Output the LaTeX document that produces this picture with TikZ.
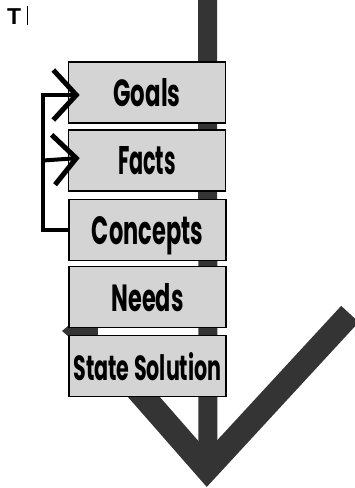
\documentclass[tikz,border=0pt]{standalone}
\usepackage{fontspec}
\setmainfont{Liberation Sans}
\newfontfamily\labelfont{Poppins}
\usetikzlibrary{arrows.meta}
\definecolor{boxgray}{HTML}{D4D4D4}
\definecolor{bargray}{HTML}{343434}
\newcommand\steplabel[2]{\resizebox{#1}{28pt}{\labelfont\bfseries #2}}
\tikzset{
  stepbox/.style={draw=black, line width=1.6pt, fill=boxgray,
    minimum width=157pt, minimum height=61pt, inner sep=0pt,
    text height=28pt, text depth=0pt},
  spine/.style={draw=bargray, line width=19pt, line cap=butt},
  tick/.style={draw=bargray, line width=24pt, line join=miter, line cap=butt},
  loopline/.style={draw=black, line width=4pt, line join=miter,
    -{Straight Barb[length=23pt, width=50pt, line width=5pt]}},
  backarrow/.style={draw=bargray, line width=7pt,
    -{Triangle[length=8pt, width=13pt]}}
}
\begin{document}
\begin{tikzpicture}[x=1pt, y=-1pt]
\useasboundingbox (0,0) rectangle (355,488);

% heading
\node[anchor=base west, font=\bfseries\fontsize{23}{23}\selectfont, inner sep=0pt] (head) at (7,24.5) {T};
\node[anchor=south west, inner sep=0pt] (cursor) at (26.5,25.5) {\rule{0.8pt}{19pt}};

% the check mark behind the stack
\coordinate (tickL) at (136,388);
\coordinate (tickV) at (207,469);
\coordinate (tickR) at (350,314);
\draw[tick] (tickL) -- (tickV) -- (tickR);

% central spine running through all steps
\coordinate (top) at (207.5,0);
\coordinate (bottom) at (208,455);
\draw[spine] (top) -- (bottom);

% short back arrow between the last two steps
\coordinate (ba1) at (98,331);
\coordinate (ba2) at (62,331);
\draw[backarrow] (ba1) -- (ba2);

% steps
\node[stepbox] (goals)    at (147,92.5)  {\steplabel{67pt}{Goals}};
\node[stepbox] (facts)    at (147,160.5) {\steplabel{58pt}{Facts}};
\node[stepbox] (concepts) at (147.5,230) {\steplabel{111pt}{Concepts}};
\node[stepbox] (needs)    at (147.5,297) {\steplabel{72pt}{Needs}};
\node[stepbox] (state)    at (147.5,366) {\steplabel{148pt}{State Solution}};

% feedback loop from Concepts back to Goals and Facts
\coordinate (loopC) at (43,230);
\draw[loopline] (concepts.west) -- (loopC) |- ([xshift=12pt,yshift=-2.5pt]goals.west);
\draw[loopline] (loopC |- facts.west) -- ([xshift=12pt,yshift=2.5pt]facts.west);
\end{tikzpicture}
\end{document}
